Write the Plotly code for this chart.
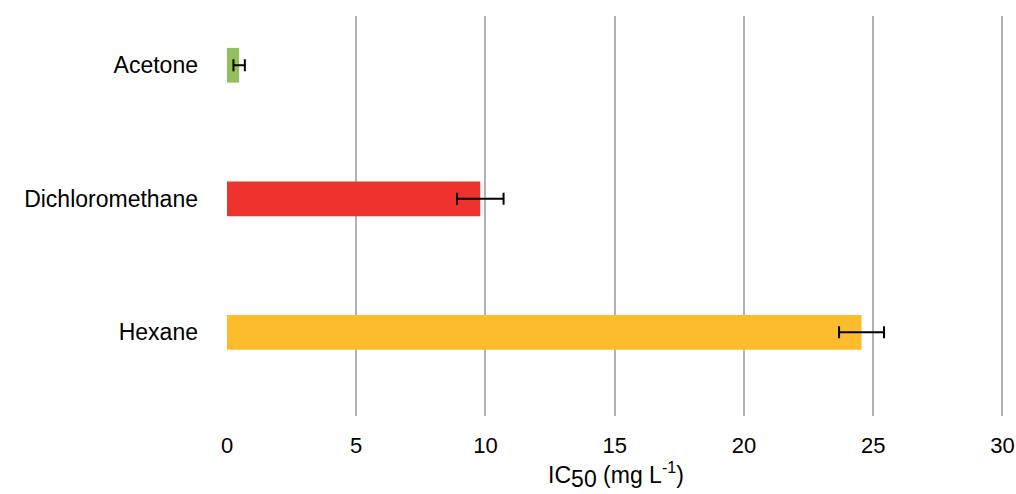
import plotly.graph_objects as go

categories = ["Acetone", "Dichloromethane", "Hexane"]
ic50_values = [0.47, 9.8, 24.55]
ic50_errors = [0.22, 0.9, 0.87]
bar_colors = ["#93BF5F", "#EE322E", "#FDBC2C"]
x_ticks = [0, 5, 10, 15, 20, 25, 30]

FONT = "Liberation Sans, Arial, sans-serif"

fig = go.Figure()
fig.add_trace(go.Bar(
    x=ic50_values,
    y=categories,
    orientation="h",
    marker=dict(color=bar_colors, line=dict(width=0)),
    width=0.26,
    error_x=dict(type="data", array=ic50_errors, visible=True,
                 color="black", thickness=2, width=6),
    showlegend=False,
    hoverinfo="skip",
))

fig.update_layout(
    width=1016, height=494,
    margin=dict(l=227, r=11, t=16, b=78, autoexpand=False),
    paper_bgcolor="white", plot_bgcolor="white",
    font=dict(family=FONT, size=22, color="black"),
    xaxis=dict(
        range=[0, 30.1], tickvals=x_ticks, showgrid=True,
        gridcolor="#B2B2B2", gridwidth=2, zeroline=False,
        showline=False, ticks="", ticklabelstandoff=14,
        automargin=False, ticklabeloverflow="allow",
        tickfont=dict(size=22),
        title=dict(text="IC<sub><span style='font-size:23px'>50</span></sub> (mg L<sup>-1</sup>)",
                   font=dict(size=23), standoff=1),
    ),
    yaxis=dict(
        type="category", categoryorder="array", categoryarray=categories,
        range=[2.627, -0.369], showgrid=False, zeroline=False,
        showline=False, ticks="", ticklabelstandoff=28,
        automargin=False,
        tickfont=dict(size=23),
    ),
)

fig.write_html(
    "out.html",
    config={"displayModeBar": False},
    post_script="document.body.style.margin='0';document.body.style.overflow='hidden';",
)
